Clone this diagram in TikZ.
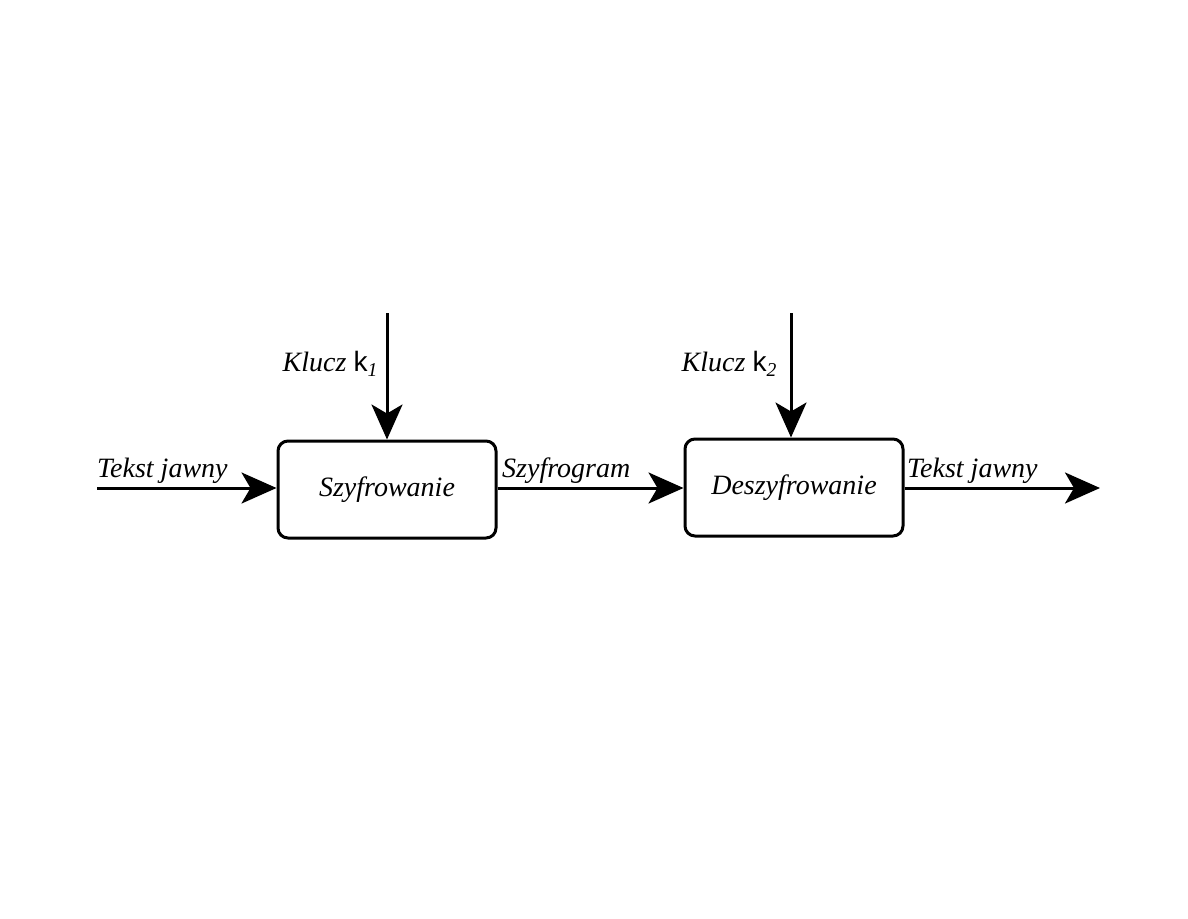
\documentclass[tikz,border=0pt]{standalone}
\usepackage{fontspec}
\setmainfont{Liberation Serif}
\newfontfamily\keyfont{Liberation Sans}
\usetikzlibrary{arrows.meta,positioning}
\tikzset{
  block/.style={draw=black,line width=3pt,rounded corners=10pt,minimum width=218pt,minimum height=97pt,font=\fontsize{28}{32}\selectfont\itshape},
  lbl/.style={font=\fontsize{28}{32}\selectfont\itshape,inner sep=2pt},
  arr/.style={-{Stealth[length=35pt,width=31pt,inset=9pt]},line width=3pt,draw=black}
}
\newcommand{\klucz}[1]{Klucz {\upshape\keyfont k}$_{\mathit{#1}}$}

\begin{document}
\begin{tikzpicture}[x=1pt,y=-1pt]
\path[use as bounding box,fill=white] (0,0) rectangle (1188,918);
% bloki
\node[block] (szyfr) at (387,489.5) {Szyfrowanie};
\node[block] (deszyfr) at (794,487.5) {Deszyfrowanie};
% punkty swobodne
\coordinate (wej) at (97,488);
\coordinate (wyj) at (1100,488);
\coordinate (k1) at (387,313);
\coordinate (k2) at (791,313);
% strzalki
\draw[arr] (wej) -- (wej -| szyfr.west);
\draw[arr] (szyfr.east |- wej) -- (deszyfr.west |- wej);
\draw[arr] (deszyfr.east |- wej) -- (wyj);
\draw[arr] (k1) -- (szyfr.north);
\draw[arr] (k2) -- (k2 |- deszyfr.north);
% opisy
\node[lbl,anchor=south west] (tj1) at (95,486) {Tekst jawny};
\node[lbl,anchor=south west] (szg) at (500,486) {Szyfrogram};
\node[lbl,anchor=south west] (tj2) at (905,486) {Tekst jawny};
\node[lbl,anchor=east] (kl1) at (380,364) {\klucz{1}};
\node[lbl,anchor=east] (kl2) at (779,364) {\klucz{2}};
\end{tikzpicture}
\end{document}
